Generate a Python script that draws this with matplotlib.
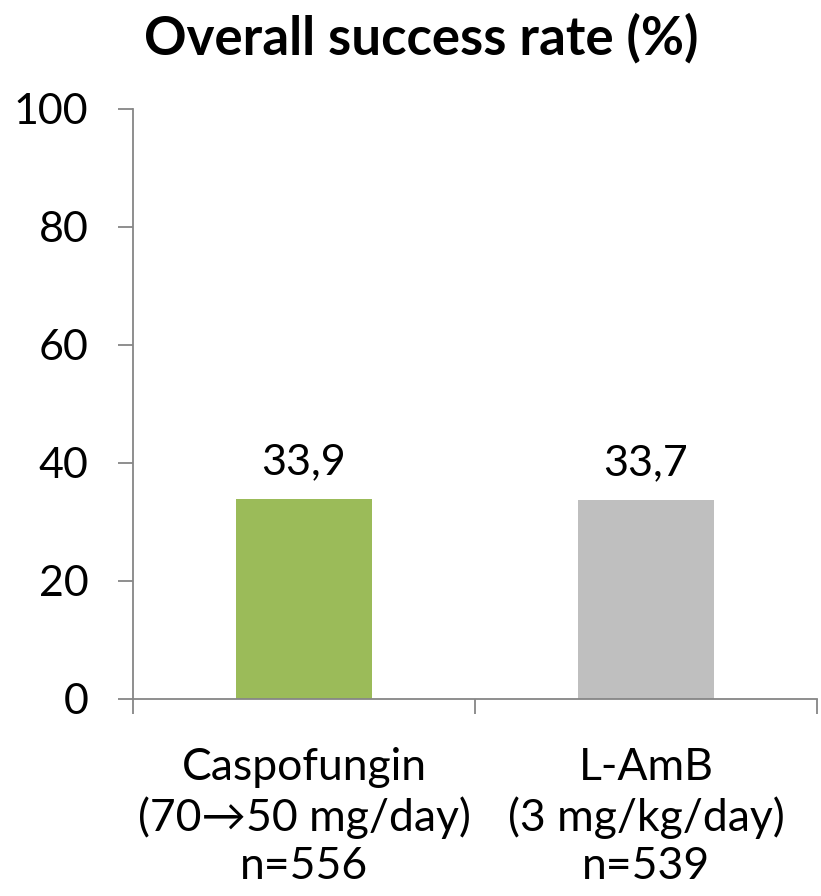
import matplotlib
matplotlib.use("Agg")
import matplotlib.pyplot as plt

# --- data ---
groups = ["Caspofungin\n(70\u219250 mg/day)\nn=556", "L-AmB\n(3 mg/kg/day)\nn=539"]
success = [33.9, 33.7]
value_labels = ["33,9", "33,7"]
bar_colors = ["#9BBB59", "#BFBFBF"]

FONT = ["Lato", "DejaVu Sans"]
plt.rcParams["font.family"] = FONT
AXIS_GREY = "#868686"

fig = plt.figure(figsize=(8.21, 8.96), dpi=100)
ax = fig.add_axes([133 / 821, (896 - 698.7) / 896, (817 - 133) / 821, (698.7 - 109) / 896])

x = list(range(len(groups)))
ax.bar(x, success, width=0.4, color=bar_colors, zorder=2)

for xi, v, lab in zip(x, success, value_labels):
    ax.annotate(lab, (xi, v), xytext=(0, 18), textcoords="offset points",
                ha="center", va="baseline", fontsize=31)

ax.set_xlim(-0.5, len(groups) - 0.5)
ax.set_ylim(0, 100)
ax.set_yticks(range(0, 101, 20))
ax.tick_params(axis="y", length=11, width=1.3, color=AXIS_GREY, labelsize=31, pad=21)

# category labels centred, tick marks on the category boundaries
ax.set_xticks(x)
ax.set_xticklabels(groups, fontsize=32, linespacing=1.22)
ax.tick_params(axis="x", length=0, pad=35)
ax.set_xticks([-0.5, 0.5, 1.5], minor=True)
ax.tick_params(axis="x", which="minor", length=11, width=1.3, color=AXIS_GREY)

for side in ["top", "right"]:
    ax.spines[side].set_visible(False)
for side in ["left", "bottom"]:
    ax.spines[side].set_color(AXIS_GREY)
    ax.spines[side].set_linewidth(1.3)

fig.suptitle("Overall success rate (%)", fontsize=38, fontweight="bold", y=0.986, x=0.513)

fig.savefig("out.png", dpi=100)
